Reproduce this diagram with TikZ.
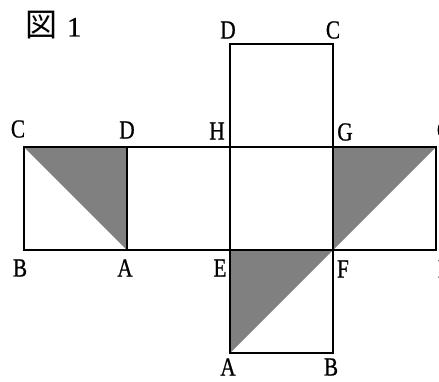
\documentclass[tikz,border=0pt]{standalone}
\usepackage{fontspec}
\setmainfont{Liberation Serif}[FakeBold=0.6]
\newfontfamily\lblfont{Liberation Serif}[FakeBold=0.8]
\newfontfamily\cjk{Noto Sans CJK JP}
\definecolor{shade}{HTML}{808080}
\newcommand{\lbtxt}[1]{\scalebox{0.82}[1]{\lblfont\fontsize{26}{26}\selectfont #1}}
\begin{document}
\begin{tikzpicture}[x=1pt,y=-1pt,
  lbl/.style={inner sep=0pt},
  edge/.style={line width=1.4pt},
  tri/.style={fill=shade}]
\useasboundingbox (0,0) rectangle (439,381);
\clip (0,0) rectangle (439,381);
% grid coordinates
\coordinate (lC) at (24,147);
\coordinate (lD) at (127,147);
\coordinate (lB) at (24,250);
\coordinate (lA) at (127,250);
\coordinate (H) at (230,147);
\coordinate (G) at (333,147);
\coordinate (E) at (230,250);
\coordinate (F) at (333,250);
\coordinate (tD) at (230,44);
\coordinate (tC) at (333,44);
\coordinate (bA) at (230,353);
\coordinate (bB) at (333,353);
\coordinate (rC) at (436,147);
\coordinate (rB) at (436,250);
% shaded triangles
\fill[tri] (lC) -- (lD) -- (lA) -- cycle;
\fill[tri] (G) -- (rC) -- (F) -- cycle;
\fill[tri] (E) -- (F) -- (bA) -- cycle;
% outlines
\draw[edge] (lC) -- (rC) -- (rB) -- (lB) -- cycle;
\draw[edge] (lD) -- (lA);
\draw[edge] (tD) -- (tC) -- (bB) -- (bA) -- cycle;
% labels
\node[lbl,anchor=west] (tl) at (25,25) {{\cjk\fontsize{32}{32}\selectfont 図}\hspace{10pt}{\lblfont\fontsize{28}{28}\selectfont 1}};
\node[lbl] (nlC) at (18,129) {\lbtxt{C}};
\node[lbl] (nlD) at (127,130) {\lbtxt{D}};
\node[lbl] (nH) at (217,131) {\lbtxt{H}};
\node[lbl] (nG) at (345,132) {\lbtxt{G}};
\node[lbl] (nrC) at (444,130) {\lbtxt{C}};
\node[lbl] (nlB) at (20,268) {\lbtxt{B}};
\node[lbl] (nlA) at (125,268) {\lbtxt{A}};
\node[lbl] (nE) at (220,268) {\lbtxt{E}};
\node[lbl] (nF) at (343,269) {\lbtxt{F}};
\node[lbl] (nrB) at (445,269) {\lbtxt{B}};
\node[lbl] (ntD) at (228,30) {\lbtxt{D}};
\node[lbl] (ntC) at (333,30) {\lbtxt{C}};
\node[lbl] (nbA) at (228,367) {\lbtxt{A}};
\node[lbl] (nbB) at (331,367) {\lbtxt{B}};
\end{tikzpicture}
\end{document}
